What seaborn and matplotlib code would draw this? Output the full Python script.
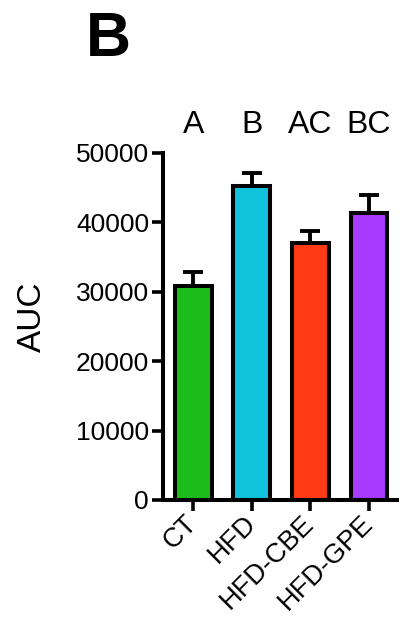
import matplotlib
matplotlib.use("Agg")
import matplotlib.pyplot as plt
import matplotlib.transforms as mtransforms
import seaborn as sns
import pandas as pd

groups = ["CT", "HFD", "HFD-CBE", "HFD-GPE"]
auc_mean = [30900, 45300, 37000, 41400]
auc_sem = [1950, 1750, 1750, 2550]
letters = ["A", "B", "AC", "BC"]
colors = ["#1bbd1b", "#10c2dc", "#ff3a14", "#a83aff"]
y_ticks = [0, 10000, 20000, 30000, 40000, 50000]

sns.set_theme(style="ticks")
plt.rcParams["font.family"] = ["Liberation Sans", "DejaVu Sans"]
plt.rcParams["text.color"] = "black"
plt.rcParams["axes.labelcolor"] = "black"
plt.rcParams["xtick.color"] = "black"
plt.rcParams["ytick.color"] = "black"

df = pd.DataFrame({"group": groups, "auc": auc_mean})

fig = plt.figure(figsize=(4.09, 6.26), dpi=100)
ax = fig.add_axes([0.3985, 0.2013, 0.5722, 0.5543])

ax.errorbar(range(len(groups)), auc_mean, yerr=[[0] * len(groups), auc_sem],
            fmt="none", ecolor="black", elinewidth=2.8, capsize=7.5,
            capthick=2.8, zorder=1)
sns.barplot(data=df, x="group", y="auc", hue="group", palette=colors,
            saturation=1, legend=False, width=0.63, edgecolor="black",
            linewidth=2.9, ax=ax, zorder=2)

ax.set_ylim(0, 50000)
ax.set_xlim(-0.52, 3.48)
ax.set_yticks(y_ticks)
ax.set_yticklabels([str(v) for v in y_ticks], fontsize=19)
ax.set_xticks(range(len(groups)))
ax.set_xticklabels(groups, fontsize=19.5, rotation=45, ha="right",
                   va="center", rotation_mode="anchor")
shift = mtransforms.ScaledTranslation(3 / 100, 0, fig.dpi_scale_trans)
for lbl in ax.get_xticklabels():
    lbl.set_transform(lbl.get_transform() + shift)
ax.set_xlabel("")
ax.set_ylabel("AUC", fontsize=24)
ax.yaxis.set_label_coords(-0.49, 0.527)
ax.tick_params(axis="both", width=2.6, length=8, color="black", pad=2)
ax.tick_params(axis="x", pad=6)

for s in ["top", "right"]:
    ax.spines[s].set_visible(False)
for s in ["left", "bottom"]:
    ax.spines[s].set_linewidth(2.9)
    ax.spines[s].set_color("black")

for i, lab in enumerate(letters):
    ax.text(i, 1.0 + 20 / 347, lab, transform=ax.get_xaxis_transform(),
            ha="center", va="baseline", fontsize=23)

fig.text(108 / 409, 1 - 40 / 626, "B", ha="center", va="center",
         fontsize=45, fontweight="bold")

fig.savefig("out.png", dpi=100)
